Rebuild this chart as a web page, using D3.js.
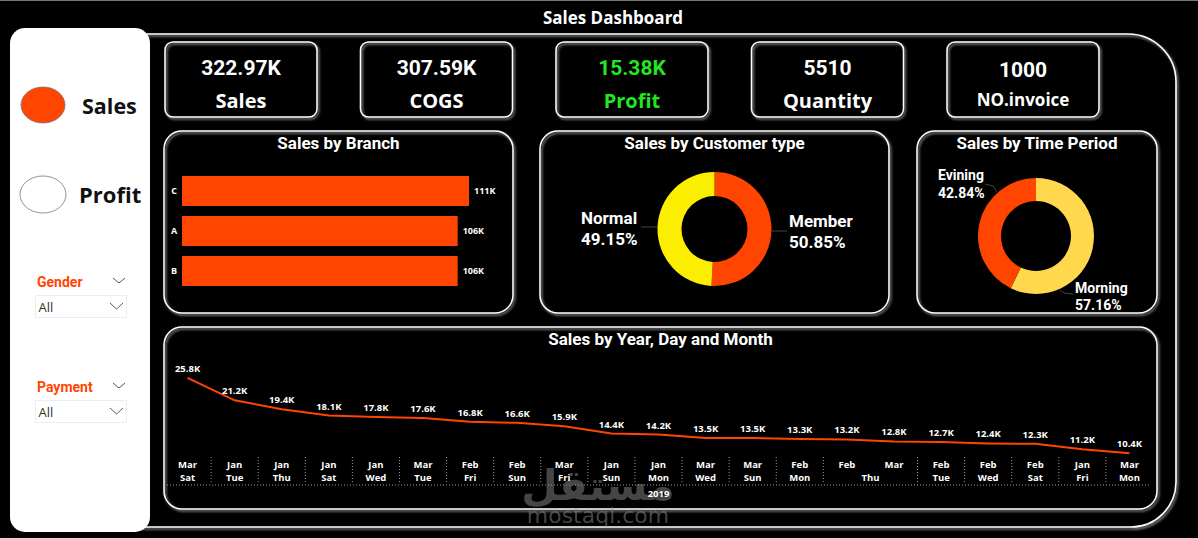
<!DOCTYPE html>
<html>
<head>
<meta charset="utf-8">
<script src="https://cdn.jsdelivr.net/npm/d3@7"></script>
<style>
  body { margin: 0; background: #000; overflow: hidden; }
  text { font-family: Roboto, "DejaVu Sans", sans-serif; font-weight: 700; }
  .seg { font-family: "Open Sans", sans-serif; }
</style>
</head>
<body>
<div id="dash"></div>
<script>
// ---- data ----
var kpiValues = ["322.97K", "307.59K", "15.38K", "5510", "1000"];
var kpiLabels = ["Sales", "COGS", "Profit", "Quantity", "NO.invoice"];

var branches = ["C", "A", "B"];
var branchSales = [110.57, 106.20, 106.20];   // K

var customerTypes = ["Member", "Normal"];
var customerShare = [50.85, 49.15];

var periods = ["Morning", "Evining"];
var periodShare = [57.16, 42.84];

var trendMonths = ["Mar","Jan","Jan","Jan","Jan","Mar","Feb","Feb","Mar","Jan","Jan",
                   "Mar","Mar","Feb","Feb","Mar","Feb","Feb","Feb","Jan","Mar"];
var trendDays   = ["Sat","Tue","Thu","Sat","Wed","Tue","Fri","Sun","Fri","Sun","Mon",
                   "Wed","Sun","Mon","Thu","Thu","Tue","Wed","Sat","Fri","Mon"];
var trendSales  = [25.8, 21.2, 19.4, 18.1, 17.8, 17.6, 16.8, 16.6, 15.9, 14.4, 14.2,
                   13.5, 13.5, 13.3, 13.2, 12.8, 12.7, 12.4, 12.3, 11.2, 10.4];
var trendYear = "2019";

var orange = "#FF4500";

var W = 1198, H = 538;
var svg = d3.select("#dash").append("svg")
    .attr("width", W)
    .attr("height", H);

// glow under the white outlines
var defs = svg.append("defs");
var glow = defs.append("filter").attr("id", "glow")
    .attr("x", "-5%").attr("y", "-5%").attr("width", "112%").attr("height", "115%");
glow.append("feDropShadow")
    .attr("dx", 1.5).attr("dy", 1.8).attr("stdDeviation", 1.3)
    .attr("flood-color", "#b0b0b0").attr("flood-opacity", 0.9);

svg.append("rect").attr("width", W).attr("height", H).attr("fill", "#000");
svg.append("rect").attr("width", W).attr("height", 1).attr("fill", "#777");

// title
svg.append("text")
    .attr("class", "seg")
    .attr("x", 613).attr("y", 24)
    .attr("text-anchor", "middle")
    .attr("fill", "#fff")
    .style("font-size", "17px")
    .text("Sales Dashboard");

// outer frame
var frame = d3.path();
frame.moveTo(140, 34);
frame.lineTo(1128, 34);
frame.arcTo(1176, 34, 1176, 82, 48);
frame.lineTo(1176, 482);
frame.arcTo(1176, 527, 1131, 527, 45);
frame.lineTo(140, 527);
svg.append("path")
    .attr("d", frame.toString())
    .attr("fill", "none")
    .attr("stroke", "#fff")
    .attr("stroke-width", 1.6)
    .attr("filter", "url(#glow)");

// ---- side bar ----
var side = svg.append("g");
side.append("rect")
    .attr("x", 10).attr("y", 28).attr("width", 140).attr("height", 504)
    .attr("rx", 15).attr("fill", "#fff");

side.append("ellipse").attr("cx", 43).attr("cy", 105).attr("rx", 22).attr("ry", 18)
    .attr("fill", orange).attr("stroke", "#777").attr("stroke-width", 0.8);
side.append("text").attr("class", "seg").attr("x", 82).attr("y", 114)
    .attr("fill", "#111").style("font-size", "21.5px").text("Sales");

side.append("ellipse").attr("cx", 43).attr("cy", 194.5).attr("rx", 23).attr("ry", 18.5)
    .attr("fill", "#fff").attr("stroke", "#777").attr("stroke-width", 0.8);
side.append("text").attr("class", "seg").attr("x", 79).attr("y", 203)
    .attr("fill", "#111").style("font-size", "22px").text("Profit");

var slicers = [{label: "Gender", y: 287}, {label: "Payment", y: 392}];
slicers.forEach(function(s) {
  side.append("text").attr("x", 37).attr("y", s.y)
      .attr("fill", orange).style("font-size", "14px").text(s.label);
  side.append("path")
      .attr("d", "M113," + (s.y - 9) + "l6,5l6,-5")
      .attr("fill", "none").attr("stroke", "#555").attr("stroke-width", 1);
  side.append("rect")
      .attr("x", 35.5).attr("y", s.y + 8.5).attr("width", 91).attr("height", 22)
      .attr("fill", "#fff").attr("stroke", "#ddd").attr("stroke-dasharray", "1,1");
  side.append("text").attr("x", 38.5).attr("y", s.y + 25)
      .attr("fill", "#333").style("font-size", "13px").style("font-weight", 400)
      .style("font-family", "'Open Sans', sans-serif").text("All");
  side.append("path")
      .attr("d", "M110," + (s.y + 16) + "l6.5,6l6.5,-6")
      .attr("fill", "none").attr("stroke", "#555").attr("stroke-width", 1);
});

// ---- KPI cards ----
var cardX = d3.scalePoint().domain(d3.range(kpiValues.length)).range([165, 947]);
var cards = svg.selectAll(".card")
    .data(kpiValues)
    .enter().append("g")
    .attr("class", "card")
    .attr("transform", function(d, i) { return "translate(" + cardX(i) + ",42)"; });

cards.append("rect")
    .attr("width", 152).attr("height", 75).attr("rx", 8)
    .attr("fill", "none").attr("stroke", "#fff").attr("stroke-width", 1.5)
    .attr("filter", "url(#glow)");
cards.append("text")
    .attr("x", 76).attr("y", function(d, i) { return i == 4 ? 35 : 33; })
    .attr("text-anchor", "middle")
    .attr("fill", function(d, i) { return i == 2 ? "#22E622" : "#fff"; })
    .style("font-size", "21px")
    .text(function(d) { return d; });
cards.append("text")
    .attr("class", "seg")
    .attr("x", 76).attr("y", function(d, i) { return i == 4 ? 64 : 66; })
    .attr("text-anchor", "middle")
    .attr("fill", function(d, i) { return i == 2 ? "#22E622" : "#fff"; })
    .style("font-size", function(d, i) { return i == 4 ? "17px" : "20px"; })
    .text(function(d, i) { return kpiLabels[i]; });

// panel helper
function panel(x, y, w, h, title, ty) {
  svg.append("rect")
      .attr("x", x).attr("y", y).attr("width", w).attr("height", h).attr("rx", 18)
      .attr("fill", "none").attr("stroke", "#fff").attr("stroke-width", 1.5)
      .attr("filter", "url(#glow)");
  svg.append("text")
      .attr("x", x + w / 2).attr("y", ty)
      .attr("text-anchor", "middle").attr("fill", "#fff")
      .style("font-size", "17px")
      .text(title);
}

// ---- Sales by Branch ----
panel(164, 131, 349, 182, "Sales by Branch", 149);

var bx = d3.scaleLinear()
    .domain([0, d3.max(branchSales)])
    .range([182, 469]);
var by = d3.scaleBand()
    .domain(branches)
    .range([176, 286])
    .paddingInner(0.25);

svg.selectAll(".bar")
    .data(branchSales)
    .enter().append("rect")
    .attr("class", "bar")
    .attr("x", bx(0))
    .attr("y", function(d, i) { return by(branches[i]); })
    .attr("width", function(d) { return bx(d) - bx(0); })
    .attr("height", by.bandwidth())
    .attr("fill", orange);

svg.selectAll(".bcat")
    .data(branches)
    .enter().append("text")
    .attr("class", "seg")
    .attr("x", 174)
    .attr("y", function(d) { return by(d) + by.bandwidth() / 2 + 3; })
    .attr("text-anchor", "middle").attr("fill", "#fff")
    .style("font-size", "9px")
    .text(function(d) { return d; });

svg.selectAll(".bval")
    .data(branchSales)
    .enter().append("text")
    .attr("class", "seg")
    .attr("x", function(d) { return bx(d) + 5; })
    .attr("y", function(d, i) { return by(branches[i]) + by.bandwidth() / 2 + 3; })
    .attr("fill", "#fff")
    .style("font-size", "9px")
    .text(function(d) { return d3.format(".0f")(d) + "K"; });

// ---- donuts ----
function donut(cx, cy, r0, r1, values, colors) {
  var pie = d3.pie().sort(null);
  var arc = d3.arc().innerRadius(r0).outerRadius(r1);
  svg.append("g")
      .attr("transform", "translate(" + cx + "," + cy + ")")
      .selectAll("path")
      .data(pie(values))
      .enter().append("path")
      .attr("d", arc)
      .attr("fill", function(d, i) { return colors[i]; });
}

function donutLabel(x, y, name, pct, size, gap) {
  var t = svg.append("text").attr("x", x).attr("y", y).attr("fill", "#fff")
      .style("font-size", size + "px");
  t.append("tspan").attr("x", x).text(name);
  t.append("tspan").attr("x", x).attr("dy", gap).text(d3.format(".2f")(pct) + "%");
}

panel(540, 131, 349, 182, "Sales by Customer type", 149);
donut(714.5, 229, 33, 57, customerShare, [orange, "#FBEE00"]);
svg.append("line").attr("x1", 641).attr("x2", 657).attr("y1", 227).attr("y2", 227)
    .attr("stroke", "#444");
svg.append("line").attr("x1", 772).attr("x2", 787).attr("y1", 231).attr("y2", 231)
    .attr("stroke", "#444");
donutLabel(789, 227, customerTypes[0], customerShare[0], 17, 21);
donutLabel(581, 224, customerTypes[1], customerShare[1], 17, 21);

panel(917, 131, 240, 182, "Sales by Time Period", 149);
donut(1036, 236, 35, 58, periodShare, ["#FFD84E", orange]);
svg.append("path").attr("d", "M985,184l8,2l4,6").attr("fill", "none").attr("stroke", "#444");
svg.append("path").attr("d", "M1060,290l4,3l9,1").attr("fill", "none").attr("stroke", "#444");
donutLabel(1075, 293, periods[0], periodShare[0], 14, 17);
donutLabel(938, 180, periods[1], periodShare[1], 14, 18);

// ---- Sales by Year, Day and Month ----
panel(164, 327, 993, 182, "Sales by Year, Day and Month", 345);

var lx = d3.scaleBand()
    .domain(d3.range(trendSales.length))
    .range([164, 1153]);
var ly = d3.scaleLinear()
    .domain([0, 27])
    .range([504, 372]);
var cx = function(i) { return lx(i) + lx.bandwidth() / 2; };

var line = d3.line()
    .x(function(d, i) { return cx(i); })
    .y(function(d) { return ly(d); });

svg.append("path")
    .datum(trendSales)
    .attr("d", line)
    .attr("fill", "none")
    .attr("stroke", orange)
    .attr("stroke-width", 2);

svg.selectAll(".lval")
    .data(trendSales)
    .enter().append("text")
    .attr("class", "seg")
    .attr("x", function(d, i) { return cx(i); })
    .attr("y", function(d) { return ly(d) - 6; })
    .attr("text-anchor", "middle").attr("fill", "#fff")
    .style("font-size", "9.5px")
    .text(function(d) { return d3.format(".1f")(d) + "K"; });

// watermark (sits behind the axis labels)
svg.append("text")
    .attr("x", 598).attr("y", 500)
    .attr("text-anchor", "middle")
    .attr("fill", "#8a8a8a").attr("opacity", 0.5)
    .style("font-family", "'DejaVu Sans', sans-serif")
    .style("font-size", "42px")
    .text("مستقل");
svg.append("text")
    .attr("x", 598).attr("y", 523)
    .attr("text-anchor", "middle")
    .attr("fill", "#8a8a8a").attr("opacity", 0.5)
    .style("font-family", "'DejaVu Sans', sans-serif")
    .style("font-weight", 400)
    .style("font-size", "22px")
    .text("mostaql.com");

// hierarchical axis: month / day / year
svg.selectAll(".mlab")
    .data(trendMonths)
    .enter().append("text")
    .attr("class", "seg")
    .attr("x", function(d, i) { return cx(i); })
    .attr("y", 468)
    .attr("text-anchor", "middle").attr("fill", "#fff")
    .style("font-size", "9.5px")
    .text(function(d) { return d; });

// group adjacent equal days
var dayGroups = [];
trendDays.forEach(function(d, i) {
  var last = dayGroups[dayGroups.length - 1];
  if (last && last.day == d) last.end = i;
  else dayGroups.push({day: d, start: i, end: i});
});

svg.selectAll(".dlab")
    .data(dayGroups)
    .enter().append("text")
    .attr("class", "seg")
    .attr("x", function(g) { return (cx(g.start) + cx(g.end)) / 2; })
    .attr("y", 481)
    .attr("text-anchor", "middle").attr("fill", "#fff")
    .style("font-size", "9.5px")
    .text(function(g) { return g.day; });

svg.selectAll(".sep")
    .data(dayGroups.slice(1))
    .enter().append("line")
    .attr("x1", function(g) { return lx(g.start); })
    .attr("x2", function(g) { return lx(g.start); })
    .attr("y1", 457).attr("y2", 484)
    .attr("stroke", "#999").attr("stroke-dasharray", "1,2");

svg.append("line")
    .attr("x1", 167).attr("x2", 1151).attr("y1", 485).attr("y2", 485)
    .attr("stroke", "#999").attr("stroke-dasharray", "1,2");

svg.append("text")
    .attr("class", "seg")
    .attr("x", (cx(0) + cx(trendSales.length - 1)) / 2).attr("y", 497)
    .attr("text-anchor", "middle").attr("fill", "#fff")
    .style("font-size", "9.5px")
    .text(trendYear);
</script>
</body>
</html>
